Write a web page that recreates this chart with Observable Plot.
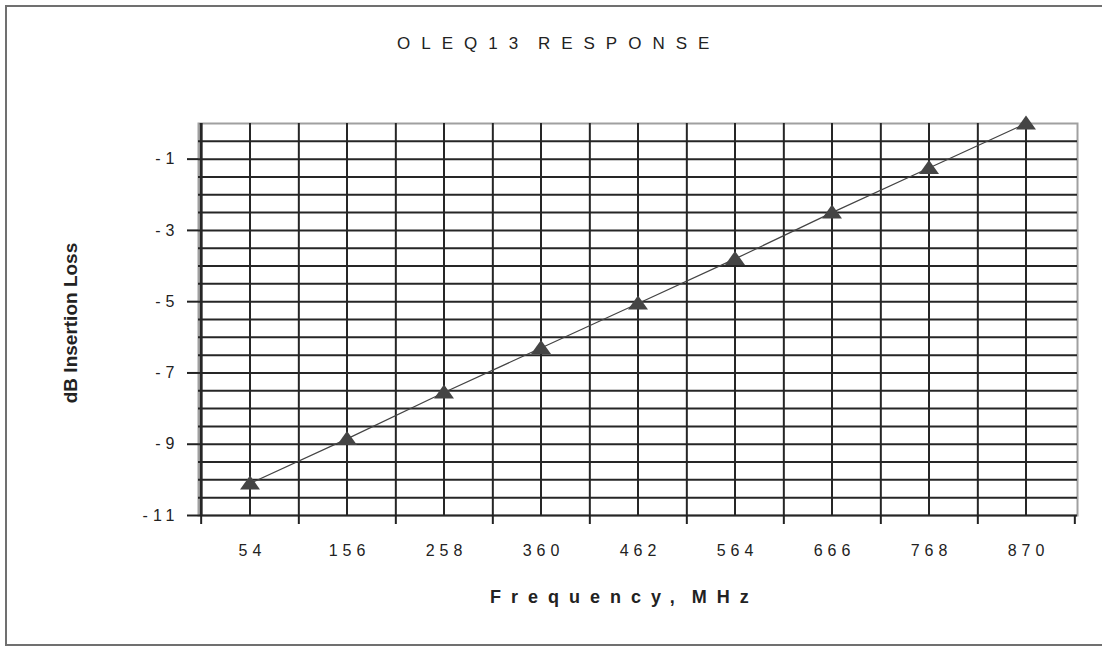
<!DOCTYPE html>
<html><head><meta charset="utf-8">
<script src="https://cdn.jsdelivr.net/npm/d3@7"></script>
<script src="https://cdn.jsdelivr.net/npm/@observablehq/plot@0.6"></script>
<style>
body{margin:0;background:#fff;}
#wrap{position:relative;width:1102px;height:647px;overflow:hidden;font-family:"Liberation Sans",Arial,sans-serif;color:#222;}
#frame{position:absolute;left:5px;top:5px;width:1100px;height:637px;border-left:2px solid #707070;border-top:2px solid #707070;border-bottom:2px solid #707070;}
#title{position:absolute;left:397px;top:34px;font-size:17px;letter-spacing:11px;white-space:nowrap;}
#title .sp{letter-spacing:4px;}
#ylab{position:absolute;left:71px;top:323px;transform:translate(-50%,-50%) rotate(-90deg);font-weight:bold;font-size:19px;white-space:nowrap;}
#xlab{position:absolute;left:490px;top:587px;font-weight:bold;font-size:18px;letter-spacing:10px;white-space:nowrap;}
#xlab .sp{letter-spacing:2px;}
#chart{position:absolute;left:0;top:0;}
g[aria-label="x-axis tick label"] text{letter-spacing:5px;}
g[aria-label="y-axis tick label"] text{letter-spacing:5px;}
</style>
</head><body>
<div id="wrap">
  <div id="frame"></div>
  <div id="chart"></div>
  <div id="title">OLEQ13<span class="sp"> </span>RESPONSE</div>
  <div id="ylab">dB Insertion Loss</div>
  <div id="xlab">Frequency,<span class="sp"> </span>MHz</div>
</div>
<script>
const freqs = [54, 156, 258, 360, 462, 564, 666, 768, 870];
const loss = [-10.1, -8.85, -7.55, -6.3, -5.05, -3.8, -2.5, -1.25, 0];
const yTicks = [-1, -3, -5, -7, -9, -11];
const yGrid = d3.range(-10.5, 0, 0.5);

const data = freqs.map((f, i) => ({freq: f, loss: loss[i]}));
const W = 1102, H = 647, mL = 198, mR = 25, mT = 123, mB = 132;
const bw = (W - mL - mR) / freqs.length;
const tri = {draw(ctx) { ctx.moveTo(0, -8); ctx.lineTo(10, 6); ctx.lineTo(-10, 6); ctx.closePath(); }};
const grid = "#262626";

const chart = Plot.plot({
  width: W, height: H,
  marginLeft: mL, marginRight: mR, marginTop: mT, marginBottom: mB,
  style: {fontFamily: '"Liberation Sans", Arial, sans-serif', fontSize: "16px", color: "#222", background: "transparent"},
  x: {type: "band", domain: freqs, padding: 0, label: null},
  y: {domain: [-11, 0], label: null},
  marks: [
    Plot.frame({stroke: "#a0a0a0", strokeWidth: 2}),
    Plot.ruleY(yGrid, {stroke: grid, strokeWidth: 2}),
    Plot.ruleX(freqs, {x: d => d, stroke: grid, strokeWidth: 2}),
    Plot.ruleX(freqs.slice(0, -1), {x: d => d, dx: bw / 2, stroke: grid, strokeWidth: 2}),
    Plot.ruleY([-11], {stroke: grid, strokeWidth: 2}),
    Plot.ruleX([freqs[0]], {x: d => d, dx: -bw / 2, stroke: grid, strokeWidth: 3}),
    Plot.axisY({ticks: yTicks, tickSize: 11, tickPadding: 8, tickFormat: d => String(d), strokeWidth: 2}),
    Plot.axisX({tickSize: 0, tickPadding: 29, dx: 2.5}),
    Plot.axisX({tickSize: 9, tickFormat: () => "", dx: bw / 2, strokeWidth: 2}),
    Plot.axisX({ticks: [freqs[0]], tickSize: 9, tickFormat: () => "", dx: -bw / 2, strokeWidth: 2}),
    Plot.line(data, {x: "freq", y: "loss", stroke: "#444", strokeWidth: 1.2}),
    Plot.dot(data, {x: "freq", y: "loss", symbol: tri, fill: "#454545", stroke: "none"})
  ]
});
document.getElementById("chart").appendChild(chart);
</script>
</body></html>
